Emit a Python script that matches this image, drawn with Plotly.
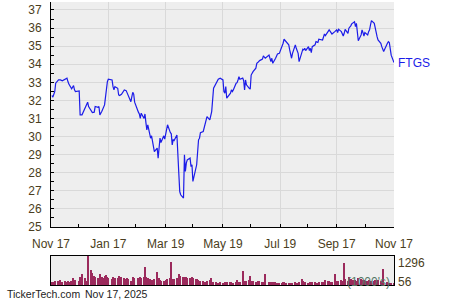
import plotly.graph_objects as go

dates = [
    "2024-11-18", "2024-11-19", "2024-11-21", "2024-11-22", "2024-11-25", "2024-11-27", "2024-11-29",
    "2024-12-02", "2024-12-04", "2024-12-05", "2024-12-06", "2024-12-09", "2024-12-11", "2024-12-12",
    "2024-12-13", "2024-12-17", "2024-12-18", "2024-12-20", "2024-12-23", "2024-12-24", "2024-12-26",
    "2024-12-27", "2024-12-30", "2024-12-31", "2025-01-02", "2025-01-03", "2025-01-06", "2025-01-07",
    "2025-01-08", "2025-01-10", "2025-01-13", "2025-01-14", "2025-01-15", "2025-01-16", "2025-01-17",
    "2025-01-21", "2025-01-22", "2025-01-23", "2025-01-24", "2025-01-27", "2025-01-28", "2025-01-29",
    "2025-01-31", "2025-02-03", "2025-02-05", "2025-02-06", "2025-02-07", "2025-02-10", "2025-02-11",
    "2025-02-12", "2025-02-13", "2025-02-14", "2025-02-18", "2025-02-19", "2025-02-20", "2025-02-21",
    "2025-02-24", "2025-02-25", "2025-02-26", "2025-02-27", "2025-02-28", "2025-03-03", "2025-03-04",
    "2025-03-06", "2025-03-07", "2025-03-10", "2025-03-11", "2025-03-12", "2025-03-13", "2025-03-14",
    "2025-03-17", "2025-03-18", "2025-03-20", "2025-03-21", "2025-03-24", "2025-03-25", "2025-03-26",
    "2025-03-27", "2025-03-28", "2025-03-31", "2025-04-02", "2025-04-03", "2025-04-04", "2025-04-07",
    "2025-04-08", "2025-04-09", "2025-04-10", "2025-04-11", "2025-04-14", "2025-04-15", "2025-04-16",
    "2025-04-17", "2025-04-21", "2025-04-22", "2025-04-23", "2025-04-24", "2025-04-25", "2025-04-28",
    "2025-04-30", "2025-05-02", "2025-05-05", "2025-05-06", "2025-05-07", "2025-05-09", "2025-05-12",
    "2025-05-13", "2025-05-14", "2025-05-16", "2025-05-19", "2025-05-20", "2025-05-21", "2025-05-22",
    "2025-05-23", "2025-05-27", "2025-05-28", "2025-05-29", "2025-05-30", "2025-06-02", "2025-06-03",
    "2025-06-04", "2025-06-05", "2025-06-06", "2025-06-09", "2025-06-10", "2025-06-11", "2025-06-12",
    "2025-06-13", "2025-06-16", "2025-06-17", "2025-06-18", "2025-06-20", "2025-06-23", "2025-06-24",
    "2025-06-25", "2025-06-27", "2025-06-30", "2025-07-01", "2025-07-03", "2025-07-07", "2025-07-08",
    "2025-07-09", "2025-07-10", "2025-07-11", "2025-07-14", "2025-07-15", "2025-07-16", "2025-07-18",
    "2025-07-21", "2025-07-22", "2025-07-23", "2025-07-25", "2025-07-28", "2025-07-29", "2025-07-30",
    "2025-07-31", "2025-08-01", "2025-08-04", "2025-08-05", "2025-08-07", "2025-08-08", "2025-08-11",
    "2025-08-12", "2025-08-13", "2025-08-14", "2025-08-15", "2025-08-18", "2025-08-19", "2025-08-20",
    "2025-08-21", "2025-08-22", "2025-08-25", "2025-08-26", "2025-08-28", "2025-08-29", "2025-09-02",
    "2025-09-03", "2025-09-04", "2025-09-05", "2025-09-08", "2025-09-09", "2025-09-11", "2025-09-12",
    "2025-09-15", "2025-09-17", "2025-09-18", "2025-09-19", "2025-09-22", "2025-09-24", "2025-09-25",
    "2025-09-26", "2025-09-29", "2025-09-30", "2025-10-02", "2025-10-03", "2025-10-06", "2025-10-07",
    "2025-10-08", "2025-10-10", "2025-10-13", "2025-10-14", "2025-10-15", "2025-10-16", "2025-10-17",
    "2025-10-20", "2025-10-21", "2025-10-22", "2025-10-23", "2025-10-24", "2025-10-27", "2025-10-28",
    "2025-10-29", "2025-10-30", "2025-10-31", "2025-11-03", "2025-11-04", "2025-11-05", "2025-11-06",
    "2025-11-10", "2025-11-11", "2025-11-12", "2025-11-13", "2025-11-14", "2025-11-17",
]

prices = [
    32.27, 32.18, 32.49, 32.95, 33.13, 33.13, 33.08,
    33.17, 33.23, 33.04, 32.90, 32.64, 32.82, 32.58,
    32.49, 32.52, 31.20, 31.20, 31.57, 31.60, 31.90,
    31.66, 31.38, 31.33, 31.35, 31.66, 31.62, 31.66,
    31.20, 31.38, 31.75, 32.30, 32.49, 33.04, 33.17,
    33.13, 32.76, 32.58, 32.76, 32.67, 32.30, 32.27,
    32.34, 32.58, 32.54, 32.40, 32.30, 31.93, 32.20,
    32.45, 32.34, 31.90, 31.35, 31.25, 31.00, 31.29,
    31.00, 31.25, 30.77, 30.37, 30.65, 29.91, 30.04,
    29.36, 29.17, 29.36, 28.81, 29.36, 29.91, 29.67,
    30.04, 29.86, 30.46, 30.65, 30.22, 30.15, 29.54,
    29.82, 29.78, 30.09, 27.97, 26.96, 26.78, 26.60,
    28.99, 28.07, 28.53, 28.71, 28.81, 28.34, 28.44,
    27.52, 28.44, 28.99, 29.82, 29.91, 30.22, 30.28,
    30.65, 31.10, 30.92, 31.20, 31.38, 32.67, 32.95,
    33.04, 33.17, 33.23, 33.13, 32.49, 32.40, 32.76,
    32.12, 32.40, 32.58, 32.49, 32.58, 32.95, 32.98,
    33.13, 33.31, 33.17, 33.23, 33.10, 32.58, 33.13,
    32.86, 32.67, 32.62, 33.40, 33.59, 33.78, 34.05,
    34.09, 34.20, 34.28, 34.46, 34.33, 34.51, 34.33,
    34.14, 34.33, 34.05, 34.33, 34.51, 34.57, 34.60,
    34.97, 35.16, 35.38, 35.25, 35.07, 34.79, 34.42,
    34.33, 34.60, 35.07, 34.88, 34.60, 34.14, 34.60,
    34.83, 34.79, 34.88, 34.75, 34.97, 34.75, 34.88,
    34.64, 34.97, 35.07, 35.25, 35.20, 35.38, 35.34,
    35.52, 35.67, 35.58, 35.80, 35.90, 35.75, 35.67,
    35.80, 35.90, 35.75, 35.93, 35.80, 35.56, 35.71,
    35.93, 35.71, 35.99, 36.12, 36.23, 36.35, 36.08,
    36.26, 35.30, 35.62, 35.90, 35.75, 35.56, 35.75,
    35.62, 35.80, 35.90, 36.17, 36.41, 36.26, 35.99,
    35.62, 35.52, 35.34, 35.16, 34.97, 34.79, 34.70,
    35.16, 35.25, 35.20, 34.70, 34.50, 34.09,
]

volumes = [
    150, 130, 170, 190, 200, 220, 140,
    160, 150, 170, 140, 200, 300, 180,
    220, 160, 350, 480, 300, 150, 200,
    1296, 670, 520, 400, 370, 330, 330,
    480, 370, 300, 400, 450, 350, 300,
    280, 340, 300, 330, 330, 300, 400,
    350, 300, 280, 330, 250, 200, 150,
    300, 370, 300, 300, 280, 340, 300,
    350, 800, 370, 330, 300, 250, 230,
    220, 250, 570, 300, 300, 220, 200,
    180, 200, 220, 250, 300, 1030, 250,
    220, 260, 300, 480, 420, 400, 380,
    350, 370, 340, 300, 300, 280, 340,
    300, 250, 250, 220, 200, 180, 160,
    150, 180, 220, 310, 200, 150, 120,
    105, 110, 120, 110, 105, 130, 150,
    140, 150, 120, 105, 110, 130, 220,
    150, 130, 120, 140, 625, 190, 190,
    160, 220, 400, 190, 190, 150, 150,
    170, 190, 150, 130, 480, 150, 150,
    130, 120, 120, 120, 110, 105, 110,
    105, 115, 120, 110, 80, 75, 90,
    105, 110, 120, 110, 100, 130, 255,
    160, 150, 150, 120, 105, 110, 130,
    150, 150, 120, 105, 105, 120, 130,
    150, 150, 220, 190, 190, 150, 150,
    480, 160, 150, 180, 220, 200, 985,
    255, 200, 370, 250, 220, 220, 240,
    200, 300, 250, 220, 200, 230, 200,
    180, 200, 220, 200, 180, 200, 220,
    240, 200, 230, 200, 200, 700, 150,
    130, 105, 105, 110, 105, 105,
]

tick_dates = ["2024-11-17", "2025-01-17", "2025-03-19", "2025-05-19",
              "2025-07-19", "2025-09-17", "2025-11-17"]
tick_labels = ["Nov 17", "Jan 17", "Mar 19", "May 19", "Jul 19", "Sep 17", "Nov 17"]
minor_tick_dates = ["2024-12-16", "2025-02-15", "2025-04-17", "2025-06-17",
                    "2025-08-17", "2025-10-18"]

symbol = "FTGS"
vol_max_label = "1296"
vol_min_label = "56"
vol_unit = "(1000's)"
footer_site = "TickerTech.com"
footer_date = "Nov 17, 2025"

label_color = "#4a3d20"
grid_color = "#d9d9d9"
font_family = "Liberation Sans, Arial, sans-serif"

fig = go.Figure()
fig.add_trace(go.Scatter(
    x=dates, y=prices, mode="lines",
    line=dict(color="#1c1ce8", width=1.2),
    xaxis="x", yaxis="y", showlegend=False, hoverinfo="skip",
))
fig.add_trace(go.Bar(
    x=dates, y=volumes,
    marker=dict(color="#9b2a5c", line=dict(width=0)),
    width=86400000 * 1.5,
    xaxis="x2", yaxis="y2", showlegend=False, hoverinfo="skip",
))

fig.update_layout(
    width=450, height=300,
    margin=dict(l=51, r=56, t=2, b=15),
    paper_bgcolor="white", plot_bgcolor="#eeeeee",
    font=dict(family=font_family, size=12, color=label_color),
    bargap=0,
    xaxis=dict(
        domain=[0, 1], anchor="y", type="date",
        range=["2024-11-17", "2025-11-17"],
        tickmode="array", tickvals=tick_dates, ticktext=tick_labels,
        ticks="inside", ticklen=3, tickcolor="black",
        showline=True, linecolor="black", linewidth=1,
        showgrid=True, gridcolor=grid_color, gridwidth=1,
        zeroline=False, ticklabelstandoff=6,
        tickfont=dict(size=12, color=label_color),
        minor=dict(tickmode="array", tickvals=minor_tick_dates, ticks="inside",
                   ticklen=3, tickcolor="black", showgrid=False),
    ),
    yaxis=dict(
        domain=[0.205, 1], anchor="x",
        range=[25, 37.44], tick0=25, dtick=1,
        ticks="inside", ticklen=3, tickcolor="black",
        showline=True, linecolor="black", linewidth=1,
        showgrid=True, gridcolor=grid_color, gridwidth=1,
        zeroline=False, ticklabelstandoff=6,
        tickfont=dict(size=12, color=label_color),
        minor=dict(dtick=0.5, ticks="inside", ticklen=3, tickcolor="black", showgrid=False),
    ),
    xaxis2=dict(
        domain=[0, 1], anchor="y2", type="date",
        range=["2024-11-17", "2025-11-17"],
        showticklabels=False, ticks="", showgrid=False,
        showline=True, mirror=True, linecolor="black", linewidth=1, zeroline=False,
    ),
    yaxis2=dict(
        domain=[0, 0.1025], anchor="x2",
        range=[0, 1296],
        showticklabels=False, ticks="", showgrid=False,
        showline=True, mirror=True, linecolor="black", linewidth=1, zeroline=False,
    ),
    annotations=[
        dict(x=dates[-1], y=prices[-1], xref="x", yref="y", text=symbol,
             xanchor="left", yanchor="middle", xshift=2, showarrow=False,
             font=dict(size=12, color="#1c1ce8")),
        dict(x=1, y=0.76, xref="x2 domain", yref="y2 domain", text=vol_max_label,
             xanchor="left", yanchor="middle", xshift=2, showarrow=False,
             font=dict(size=12, color=label_color)),
        dict(x=1, y=0.10, xref="x2 domain", yref="y2 domain", text=vol_min_label,
             xanchor="left", yanchor="middle", xshift=2, showarrow=False,
             font=dict(size=12, color=label_color)),
        dict(x=1, y=0.10, xref="x2 domain", yref="y2 domain", text=vol_unit,
             xanchor="right", yanchor="middle", xshift=-2, showarrow=False,
             font=dict(size=12, color="#557766")),
        dict(x=-0.134, y=-0.032, xref="paper", yref="paper", text=footer_site,
             xanchor="left", yanchor="middle", showarrow=False,
             font=dict(size=10.5, color="#222222")),
        dict(x=0.093, y=-0.032, xref="paper", yref="paper", text=footer_date,
             xanchor="left", yanchor="middle", showarrow=False,
             font=dict(size=10.5, color="#222222")),
    ],
)

fig.write_html("out.html", config={"displayModeBar": False})
